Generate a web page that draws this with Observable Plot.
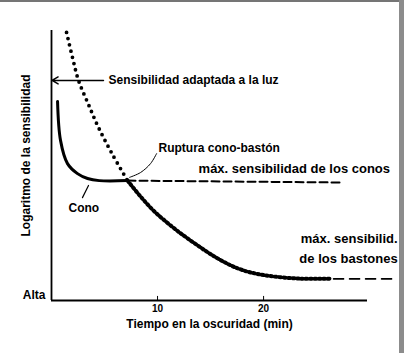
<!DOCTYPE html>
<html><head><meta charset="utf-8">
<script src="https://cdn.jsdelivr.net/npm/d3@7"></script>
<script src="https://cdn.jsdelivr.net/npm/@observablehq/plot@0.6"></script>
<style>
html,body{margin:0;padding:0;background:#fff;}
#wrap{position:relative;width:404px;height:353px;overflow:hidden;}
#topb{position:absolute;left:0;top:0;width:404px;height:2px;background:#757575;}
#rightb{position:absolute;left:399px;top:0;width:5px;height:353px;background:#8c8c8c;}
</style></head><body>
<div id="wrap"><div id="chart"></div><div id="topb"></div><div id="rightb"></div></div>
<script>
// Rod (bastones) curve before the break: time (min), log sensitivity (arbitrary units)
const rodEarlyTime = [1.42, 1.98, 2.55, 3.49, 4.43, 5.75, 7.17];
const rodEarlySens = [9.93, 9.00, 8.15, 7.26, 6.41, 5.41, 4.44];
// Rod curve after the break
const rodLateTime = [7.17, 8.40, 9.62, 11.23, 12.83, 15.66, 17.83, 20.19, 23.49, 26.32];
const rodLateSens = [4.44, 3.85, 3.33, 2.78, 2.30, 1.56, 1.15, 0.93, 0.81, 0.81];
// Rod maximum sensitivity extension
const rodMaxTime = [26.6, 32.1];
const rodMaxSens = [0.80, 0.80];
// Cone curve
const coneTime = [0.57, 0.85, 1.51, 2.45, 3.40, 4.5, 7.17];
const coneSens = [7.37, 5.93, 5.07, 4.70, 4.52, 4.44, 4.44];
// Cone maximum sensitivity extension
const coneMaxTime = [7.17, 27.5];
const coneMaxSens = [4.44, 4.37];
// Light-adapted sensitivity arrow
const lightTime = [4.9, 0.05];
const lightSens = [8.15, 8.15];
// Leader lines
const ruptTime = [7.36, 8.40, 9.34, 9.91];
const ruptSens = [4.56, 4.74, 5.07, 5.44];
const conoTime = [3.49, 2.92];
const conoSens = [4.26, 3.81];
// Tick labels
const xTicks = [10, 20];
// Annotations (left-anchored)
const notesLeft = [
  {t: 5.38, v: 8.15, text: "Sensibilidad adaptada a la luz", size: 12},
  {t: 10.09, v: 5.63, text: "Ruptura cono-bastón", size: 12},
  {t: 13.87, v: 4.89, text: "máx. sensibilidad de los conos", size: 13},
  {t: 1.6, v: 3.41, text: "Cono", size: 12}
];
// Annotations (right-anchored)
const notesRight = [
  {t: 32.64, v: 2.30, text: "máx. sensibilid.", size: 13},
  {t: 32.64, v: 1.56, text: "de los bastones", size: 13}
];

const zip = (ts, vs) => ts.map((t, i) => ({t, v: vs[i]}));
const font = "'Liberation Sans', Arial, sans-serif";

const chart = Plot.plot({
  width: 404, height: 353,
  marginLeft: 51, marginRight: 37, marginTop: 30, marginBottom: 53,
  x: {domain: [0, 29.8], axis: null},
  y: {domain: [0, 10], axis: null},
  style: {fontFamily: font, background: "white", color: "black"},
  marks: [
    Plot.ruleX([0], {stroke: "black", strokeWidth: 1.8}),
    Plot.ruleY([0], {stroke: "black", strokeWidth: 1.8}),
    Plot.ruleX(xTicks, {y1: 0, y2: 0.15, stroke: "black", strokeWidth: 1}),
    Plot.text(xTicks, {x: d => d, frameAnchor: "bottom", dy: 11, text: d => `${d}`, fontSize: 10, fontWeight: "bold"}),
    Plot.text(["Alta"], {frameAnchor: "bottom-left", dx: -6, dy: -2, textAnchor: "end", fontSize: 12, fontWeight: "bold"}),
    Plot.text(["Tiempo en la oscuridad (min)"], {frameAnchor: "bottom", dy: 27, fontSize: 12, fontWeight: "bold"}),
    Plot.text(["Logaritmo de la sensibilidad"], {frameAnchor: "left", dx: -25, dy: -10, textAnchor: "middle", rotate: -90, fontSize: 12, fontWeight: "bold"}),
    Plot.line(zip(rodEarlyTime, rodEarlySens), {x: "t", y: "v", curve: "catmull-rom", stroke: "black", strokeWidth: 3.8, strokeDasharray: "0,6.4", strokeLinecap: "round"}),
    Plot.line(zip(rodLateTime, rodLateSens), {x: "t", y: "v", curve: "catmull-rom", stroke: "black", strokeWidth: 4, strokeDasharray: "1.8,2.6"}),
    Plot.line(zip(rodMaxTime, rodMaxSens), {x: "t", y: "v", stroke: "black", strokeWidth: 1.6, strokeDasharray: "10,6"}),
    Plot.line(zip(coneTime, coneSens), {x: "t", y: "v", curve: "catmull-rom", stroke: "black", strokeWidth: 3}),
    Plot.line(zip(coneMaxTime, coneMaxSens), {x: "t", y: "v", stroke: "black", strokeWidth: 2, strokeDasharray: "8,4"}),
    Plot.arrow([0], {x1: () => lightTime[0], x2: () => lightTime[1], y1: () => lightSens[0], y2: () => lightSens[1], stroke: "black", strokeWidth: 1.5, headLength: 7}),
    Plot.line(zip(ruptTime, ruptSens), {x: "t", y: "v", curve: "catmull-rom", stroke: "black", strokeWidth: 1}),
    Plot.line(zip(conoTime, conoSens), {x: "t", y: "v", stroke: "black", strokeWidth: 1.2}),
    Plot.text(notesLeft, {x: "t", y: "v", text: "text", fontSize: d => d.size, textAnchor: "start", fontWeight: "bold", fill: "black"}),
    Plot.text(notesRight, {x: "t", y: "v", text: "text", fontSize: d => d.size, textAnchor: "end", fontWeight: "bold", fill: "black"})
  ]
});
document.getElementById("chart").appendChild(chart);
</script>
</body></html>
